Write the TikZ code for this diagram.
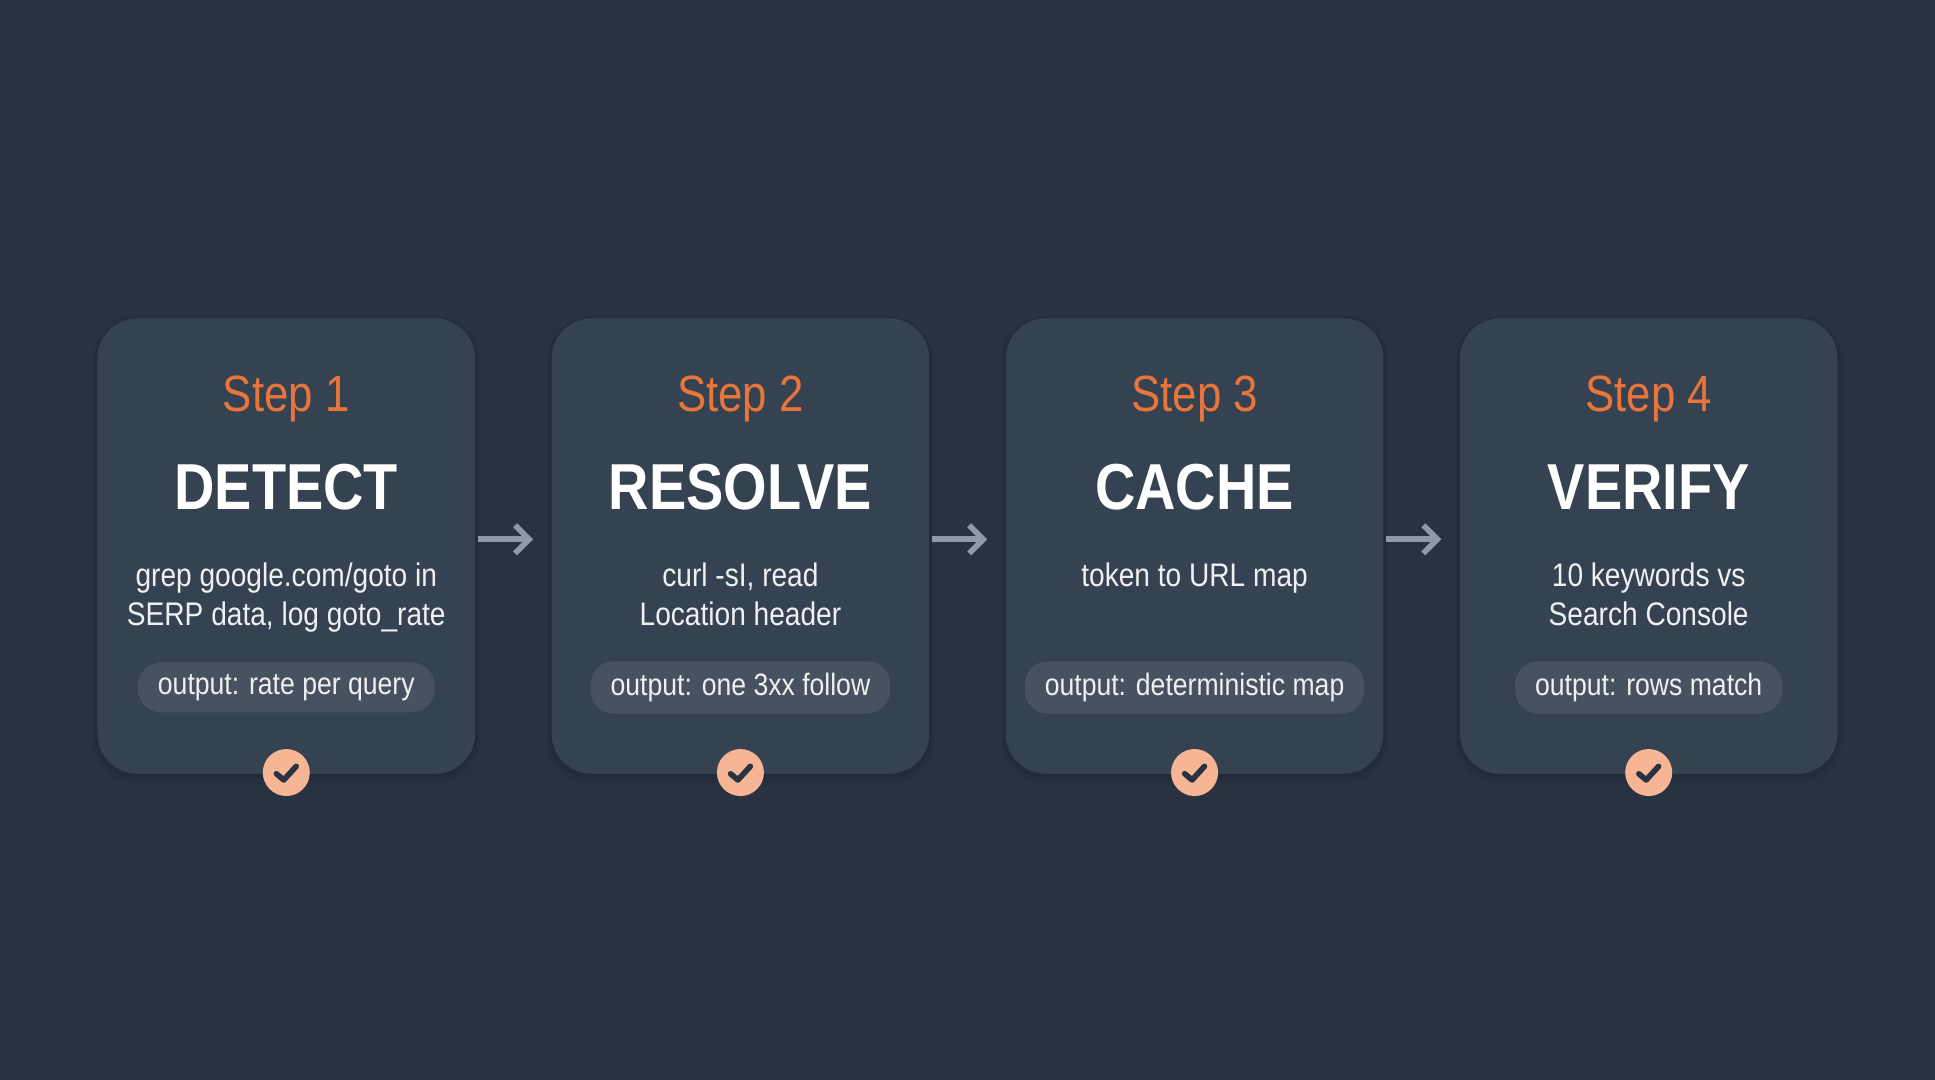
\documentclass[tikz,border=0pt]{standalone}
\usepackage{fontspec}
\setmainfont{Liberation Sans}[FakeStretch=0.86]
\begin{document}
\begin{tikzpicture}[x=0.01234cm,y=-0.01234cm,
  card/.style={fill=cardc,rounded corners=0.4cm,draw=none},
  stepl/.style={text=orangec,font=\fontsize{14.5}{16}\selectfont},
  title/.style={text=white,font=\bfseries\fontsize{18.5}{20}\selectfont},
  body/.style={text=bodyc,font=\fontsize{9.3}{11}\selectfont,align=center},
  pill/.style={fill=pillc,rounded corners=0.23cm,minimum height=0.47cm,inner xsep=0.2cm,text=bodyc,font=\fontsize{8.8}{10}\selectfont},
  chk/.style={circle,fill=peach,minimum size=0.47cm,inner sep=0pt},
  arr/.style={draw=arrowc,line width=1.6pt,-{Straight Barb[length=4pt,width=8pt]}}]
\usetikzlibrary{arrows.meta}
\definecolor{bg}{HTML}{283241}
\definecolor{cardc}{HTML}{354252}
\definecolor{orangec}{HTML}{E8763B}
\definecolor{bodyc}{HTML}{EEF0F2}
\definecolor{pillc}{HTML}{46525F}
\definecolor{peach}{HTML}{F6B595}
\definecolor{arrowc}{HTML}{8D9AAA}
\fill[bg] (0,0) rectangle (1568,875);
\foreach \i/\x/\s/\t/\b/\p in {
 1/232/Step 1/DETECT/{grep google.com/goto in\\SERP data, log goto\_rate}/{output: rate per query},
 2/600/Step 2/RESOLVE/{curl -sI, read\\Location header}/{output: one 3xx follow},
 3/968/Step 3/CACHE/{token to URL map}/{output: deterministic map},
 4/1336/Step 4/VERIFY/{10 keywords vs\\Search Console}/{output: rows match}}{
 \fill[black,opacity=0.06,rounded corners=0.45cm] (\x-157,256) rectangle (\x+157,635);
 \fill[black,opacity=0.07,rounded corners=0.42cm] (\x-155,258) rectangle (\x+155,631);
 \fill[card] (\x-153,258) rectangle (\x+153,627);
 \coordinate (c\i) at (\x,437);
 \node[stepl] (s\i) at (\x,323) {\s};
 \node[title] (t\i) at (\x,395) {\t};
 \node[body,anchor=north] (b\i) at (\x,446) {\b};
 \node[pill] (p\i) at (\x,557) {\p};
 \node[chk] (k\i) at (\x,626) {};
 \draw[line width=1.6pt,draw=bg,line cap=round,line join=round] ([shift={(-8,1)}]k\i.center) -- ([shift={(-2,6)}]k\i.center) -- ([shift={(8,-5)}]k\i.center);
}
\foreach \a/\b/\x in {1/2/385,2/3/753,3/4/1121}{
 \coordinate (ea\a) at (\x+2,437);
 \coordinate (eb\a) at (\x+47,437);
 \draw[arr] (ea\a) -- (eb\a);
}
\end{tikzpicture}
\end{document}
